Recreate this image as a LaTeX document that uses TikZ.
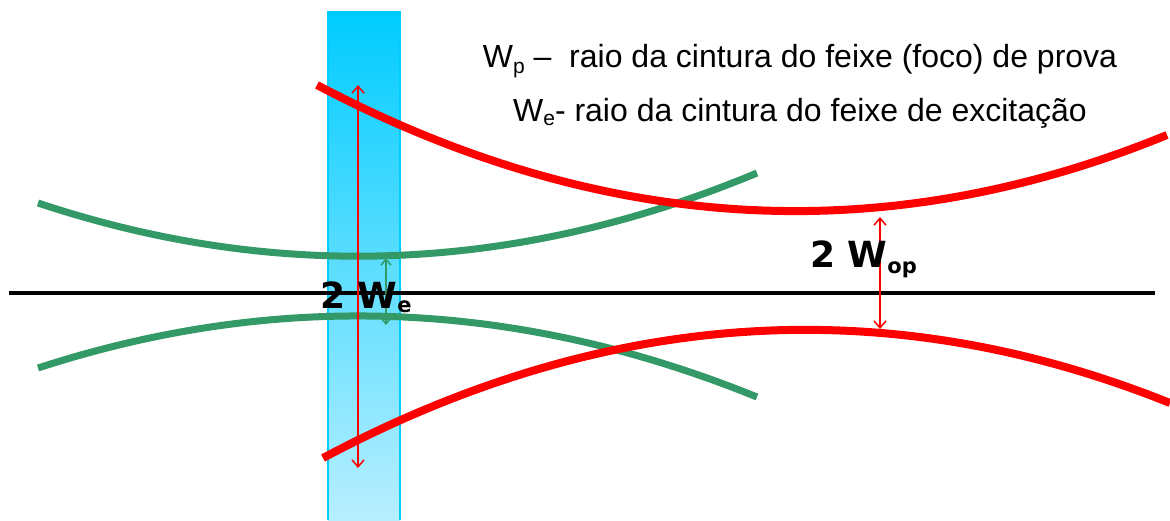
\documentclass[tikz,border=0pt]{standalone}
\usepackage{fontspec}
\setmainfont{Liberation Sans}
\newfontfamily\labfont{DejaVu Sans}
\usetikzlibrary{arrows.meta}
\definecolor{beamgreen}{HTML}{339966}
\definecolor{beamred}{HTML}{FF0000}
\definecolor{cyantop}{HTML}{00CCFF}
\definecolor{cyanbot}{HTML}{B8EFFF}
\newcommand{\lowsub}[3]{\raisebox{-#1}{\fontsize{#2}{#2}\selectfont #3}}
\tikzset{
  greenbeam/.style={draw=beamgreen, line width=7},
  redbeam/.style={draw=beamred, line width=8},
  axisline/.style={draw=black, line width=4},
  redmeas/.style={draw=beamred, line width=1.5, {Straight Barb[length=7,width=12]}-{Straight Barb[length=7,width=12]}},
  greenmeas/.style={draw=beamgreen, line width=1.5, {Straight Barb[length=6,width=10]}-{Straight Barb[length=6,width=10]}},
  toptext/.style={anchor=base, inner sep=0, font=\fontsize{32}{32}\selectfont},
  boldlab/.style={anchor=base west, inner sep=0, font=\labfont\bfseries\fontsize{36}{36}\selectfont}
}
\begin{document}
\begin{tikzpicture}[x=1pt,y=-1pt]
\useasboundingbox (0,0) rectangle (1170,520);
% excitation beam (vertical)
\shade[top color=cyantop, bottom color=cyanbot] (328,12) rectangle (400,520);
\draw[cyantop, line width=2] (328,520) -- (328,12) -- (400,12) -- (400,520);
% axis
\coordinate (axL) at (9,293);
\coordinate (axR) at (1155,293);
\draw[axisline] (axL) -- (axR);
% green beam
\coordinate (gUL) at (38,203);
\coordinate (gUR) at (757,173);
\coordinate (gLL) at (38,368);
\coordinate (gLR) at (757,397);
\draw[greenbeam] (gUL) .. controls (277.67,282.8) and (517.33,272.8) .. (gUR);
\draw[greenbeam] (gLL) .. controls (277.67,290) and (517.33,299.67) .. (gLR);
% red beam
\coordinate (rUL) at (317,85);
\coordinate (rUR) at (1167,135);
\coordinate (rLL) at (323,458);
\coordinate (rLR) at (1170,403);
\draw[redbeam] (rUL) .. controls (600.33,234.33) and (883.67,251) .. (rUR);
\draw[redbeam] (rLL) .. controls (605.33,308) and (887.67,289.67) .. (rLR);
% measurement arrows
\coordinate (ra1) at (358,85);
\coordinate (ra2) at (358,468);
\draw[redmeas] (ra1) -- (ra2);
\coordinate (ga1) at (386,258);
\coordinate (ga2) at (386,325);
\draw[greenmeas] (ga1) -- (ga2);
\coordinate (rb1) at (880,217);
\coordinate (rb2) at (880,329);
\draw[redmeas] (rb1) -- (rb2);
% labels
\node[boldlab] (lblE) at (320,308) {2 W\lowsub{4pt}{21}{e}};
\node[boldlab] (lblP) at (810,267) {2 W\lowsub{6pt}{21}{op}};
\node[toptext] (t1) at (800,67) {W\lowsub{6pt}{21}{p} –\ \ raio da cintura do feixe (foco) de prova};
\node[toptext] (t2) at (800,121) {W\lowsub{4pt}{21}{e}- raio da cintura do feixe de excitação};
\end{tikzpicture}
\end{document}
